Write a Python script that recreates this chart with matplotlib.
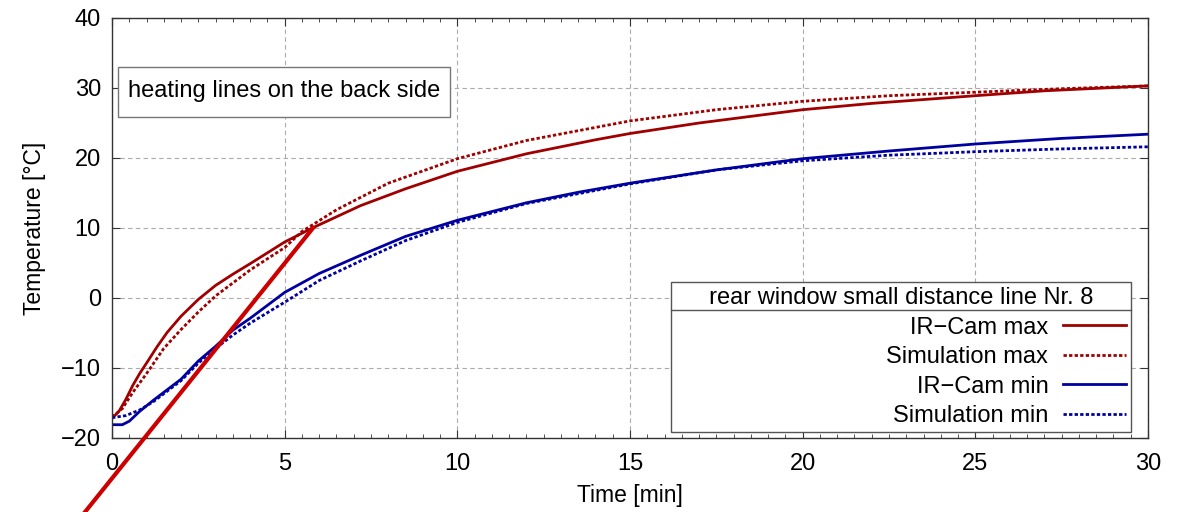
import matplotlib
matplotlib.use("Agg")
import matplotlib.pyplot as plt
from matplotlib.ticker import MultipleLocator
from matplotlib.lines import Line2D
from matplotlib.patches import Rectangle

plt.rcParams['font.family'] = ['Liberation Sans', 'DejaVu Sans']

# data (time in min, temperature in degC)
t_ir_max = [0, 0.2, 0.4, 0.6, 0.8, 1.0, 1.3, 1.6, 2.0, 2.5, 3.0, 3.5, 4.0, 5.0, 5.8,
            7.2, 8.5, 10, 12, 14, 15, 17, 20, 22, 25, 27, 30]
ir_max = [-17.2, -16.2, -14.5, -12.5, -10.8, -9.3, -7.0, -4.9, -2.6, -0.2, 1.8, 3.4, 4.9,
          8.0, 10.0, 13.2, 15.6, 18.1, 20.6, 22.6, 23.5, 25.0, 26.9, 27.8, 28.9, 29.6, 30.3]

t_sim_max = [0, 0.3, 0.6, 1.0, 1.5, 2.0, 2.5, 3.0, 4.0, 5.0, 5.5, 6.5, 8, 10, 12, 15,
             17.5, 20, 22.5, 25, 27.5, 30]
sim_max = [-17.0, -15.8, -13.5, -10.8, -7.2, -4.5, -2.0, 0.3, 4.0, 7.2, 9.5, 12.6, 16.4,
           19.9, 22.5, 25.3, 26.9, 28.1, 28.9, 29.4, 29.9, 30.3]

t_ir_min = [0, 0.3, 0.5, 0.8, 1.2, 1.6, 2.0, 2.5, 3.0, 3.5, 4.0, 5.0, 6.0, 7.2, 8.5,
            10, 12, 13.5, 15, 17.5, 20, 22.5, 25, 27.5, 30]
ir_min = [-18.1, -18.1, -17.6, -16.2, -14.6, -13.1, -11.6, -9.0, -6.9, -4.6, -2.9, 0.8,
          3.5, 6.1, 8.8, 11.1, 13.6, 15.1, 16.4, 18.3, 19.9, 21.0, 22.0, 22.8, 23.4]

t_sim_min = [0, 0.4, 0.8, 1.2, 1.6, 2.0, 2.5, 3.0, 3.5, 4.0, 5.0, 6.0, 7.2, 8.5, 10,
             12, 15, 17.5, 20, 22.5, 25, 27.5, 30]
sim_min = [-17.1, -16.8, -16.0, -14.8, -13.3, -11.8, -9.3, -7.2, -5.3, -3.6, -0.6, 2.5,
           5.3, 8.2, 10.8, 13.5, 16.3, 18.3, 19.6, 20.4, 20.9, 21.3, 21.6]

tangent_t = [-0.9, 5.82]
tangent_y = [-31.3, 10.0]

labels = ['IR\u2212Cam max', 'Simulation max', 'IR\u2212Cam min', 'Simulation min']
dark_red = '#a00000'
dark_blue = '#0000a0'

fig = plt.figure(figsize=(11.8, 5.12), dpi=100)
ax = fig.add_axes([112 / 1180, 1 - 438 / 512, (1148 - 112) / 1180, (438 - 18) / 512])

ax.plot(t_ir_max, ir_max, color=dark_red, lw=2.0, label=labels[0])
ax.plot(t_sim_max, sim_max, color=dark_red, lw=2.0, ls=(0, (1.2, 0.8)), label=labels[1])
ax.plot(t_ir_min, ir_min, color=dark_blue, lw=2.0, label=labels[2])
ax.plot(t_sim_min, sim_min, color=dark_blue, lw=2.0, ls=(0, (1.2, 0.8)), label=labels[3])

# tangent line, runs out of the plot area
ax.plot(tangent_t, tangent_y, color='#cc0000', lw=3.0, clip_on=False, zorder=5)

ax.set_xlim(0, 30)
ax.set_ylim(-20, 40)
ax.xaxis.set_major_locator(MultipleLocator(5))
ax.xaxis.set_minor_locator(MultipleLocator(0.5))
ax.yaxis.set_major_locator(MultipleLocator(10))
ax.tick_params(which='both', direction='in', top=True, right=True, labelsize=17,
               color='#333333')
ax.tick_params(axis='x', pad=11)
ax.tick_params(axis='y', pad=8)
ax.tick_params(which='major', length=6)
ax.tick_params(which='minor', length=3)
ax.grid(True, which='major', color='#aaaaaa', ls=(0, (4, 3)), lw=0.8)
for s in ax.spines.values():
    s.set_color('#333333')
    s.set_linewidth(1.0)

ax.set_xlabel('Time [min]', fontsize=16.5, labelpad=6)
ax.set_ylabel('Temperature [°C]', fontsize=16.5, labelpad=11)

# label box in the upper left
ax.add_patch(Rectangle((0.0058, 0.7643), 0.3205, 0.119, transform=ax.transAxes,
                       fc='white', ec='#777777', lw=1.0, zorder=6))
ax.text(0.166, 0.826, 'heating lines on the back side', transform=ax.transAxes,
        fontsize=17, va='center', ha='center', zorder=7)

leg = ax.legend(loc='lower right', bbox_to_anchor=(0.9836, 0.0143), markerfirst=False,
                title='     rear window small distance line Nr. 8     ', title_fontsize=17,
                fontsize=17, fancybox=False, framealpha=1, edgecolor='#555555',
                borderpad=0.2, labelspacing=0.32, handlelength=2.7, handletextpad=0.6,
                borderaxespad=0, alignment='right')
leg.get_frame().set_linewidth(1.0)

# separator line under the legend title
fig.canvas.draw()
fb = leg.get_frame().get_window_extent()
tb = leg.get_title().get_window_extent()
inv = fig.transFigure.inverted()
ysep = tb.y0 - 1
p0 = inv.transform((fb.x0, ysep))
p1 = inv.transform((fb.x1, ysep))
fig.add_artist(Line2D([p0[0], p1[0]], [p0[1], p1[1]], color='#555555', lw=1.0))

fig.savefig('out.png', dpi=100)
